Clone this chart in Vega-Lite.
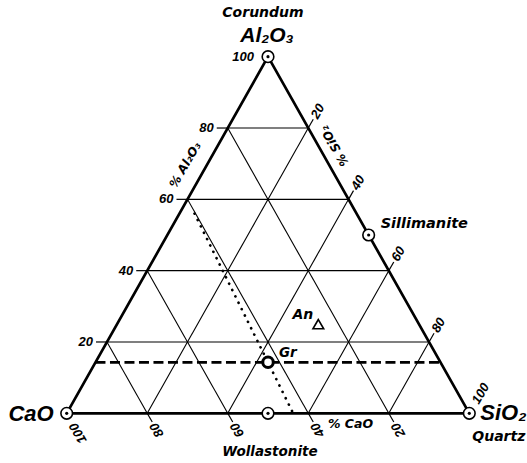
{
  "$schema": "https://vega.github.io/schema/vega-lite/v6.json",
  "description": "CaO - Al2O3 - SiO2 ternary diagram (mol %), with a 20 % grid and the main phases.",
  "width": 402.6,
  "height": 356.6,
  "autosize": "none",
  "padding": {"left": 66.7, "top": 56.7, "right": 57.7, "bottom": 49.7},
  "background": "white",
  "config": {
    "view": {"stroke": null},
    "text": {"font": "Liberation Sans", "fontStyle": "italic", "fontWeight": "bold", "color": "black"}
  },
  "datasets": {
    "edges": [
      {"ca1": 100, "al1": 0, "si1": 0, "ca2": 0, "al2": 0, "si2": 100},
      {"ca1": 0, "al1": 0, "si1": 100, "ca2": 0, "al2": 100, "si2": 0},
      {"ca1": 0, "al1": 100, "si1": 0, "ca2": 100, "al2": 0, "si2": 0}
    ],
    "grid": [
      {"ca1": 80, "al1": 20, "si1": 0, "ca2": 0, "al2": 20, "si2": 80},
      {"ca1": 60, "al1": 40, "si1": 0, "ca2": 0, "al2": 40, "si2": 60},
      {"ca1": 40, "al1": 60, "si1": 0, "ca2": 0, "al2": 60, "si2": 40},
      {"ca1": 20, "al1": 80, "si1": 0, "ca2": 0, "al2": 80, "si2": 20},
      {"ca1": 80, "al1": 0, "si1": 20, "ca2": 0, "al2": 80, "si2": 20},
      {"ca1": 60, "al1": 0, "si1": 40, "ca2": 0, "al2": 60, "si2": 40},
      {"ca1": 40, "al1": 0, "si1": 60, "ca2": 0, "al2": 40, "si2": 60},
      {"ca1": 20, "al1": 0, "si1": 80, "ca2": 0, "al2": 20, "si2": 80},
      {"ca1": 20, "al1": 0, "si1": 80, "ca2": 20, "al2": 80, "si2": 0},
      {"ca1": 40, "al1": 0, "si1": 60, "ca2": 40, "al2": 60, "si2": 0},
      {"ca1": 60, "al1": 0, "si1": 40, "ca2": 60, "al2": 40, "si2": 0},
      {"ca1": 80, "al1": 0, "si1": 20, "ca2": 80, "al2": 20, "si2": 0}
    ],
    "gr_al2o3_level": [
      {"ca1": 85.71, "al1": 14.29, "si1": 0, "ca2": 0, "al2": 14.29, "si2": 85.71}
    ],
    "gr_join": [
      {"ca1": 40.25, "al1": 56, "si1": 3.75, "ca2": 43.75, "al2": 0, "si2": 56.25}
    ],
    "scale": [
      {"side": "Al2O3", "value": 20, "ca": 80, "al": 20, "si": 0},
      {"side": "Al2O3", "value": 40, "ca": 60, "al": 40, "si": 0},
      {"side": "Al2O3", "value": 60, "ca": 40, "al": 60, "si": 0},
      {"side": "Al2O3", "value": 80, "ca": 20, "al": 80, "si": 0},
      {"side": "Al2O3", "value": 100, "ca": 0, "al": 100, "si": 0},
      {"side": "SiO2", "value": 20, "ca": 0, "al": 80, "si": 20},
      {"side": "SiO2", "value": 40, "ca": 0, "al": 60, "si": 40},
      {"side": "SiO2", "value": 60, "ca": 0, "al": 40, "si": 60},
      {"side": "SiO2", "value": 80, "ca": 0, "al": 20, "si": 80},
      {"side": "SiO2", "value": 100, "ca": 0, "al": 0, "si": 100},
      {"side": "CaO", "value": 20, "ca": 20, "al": 0, "si": 80},
      {"side": "CaO", "value": 40, "ca": 40, "al": 0, "si": 60},
      {"side": "CaO", "value": 60, "ca": 60, "al": 0, "si": 40},
      {"side": "CaO", "value": 80, "ca": 80, "al": 0, "si": 20},
      {"side": "CaO", "value": 100, "ca": 100, "al": 0, "si": 0}
    ],
    "phases": [
      {"id": "Al2O3", "marker": "node", "ca": 0, "al": 100, "si": 0},
      {"id": "CaO", "marker": "node", "ca": 100, "al": 0, "si": 0},
      {"id": "SiO2", "marker": "node", "ca": 0, "al": 0, "si": 100},
      {"id": "Sillimanite", "marker": "node", "ca": 0, "al": 50, "si": 50},
      {"id": "Wollastonite", "marker": "node", "ca": 50, "al": 0, "si": 50},
      {"id": "Gr", "marker": "ring", "ca": 42.86, "al": 14.29, "si": 42.86},
      {"id": "An", "marker": "triangle", "ca": 25, "al": 25, "si": 50}
    ],
    "labels": [
      {"text": "Corundum", "ca": 0, "al": 100, "si": 0},
      {"text": "Al₂O₃", "ca": 0, "al": 100, "si": 0},
      {"text": "CaO", "ca": 100, "al": 0, "si": 0},
      {"text": "SiO₂", "ca": 0, "al": 0, "si": 100},
      {"text": "Quartz", "ca": 0, "al": 0, "si": 100},
      {"text": "Wollastonite", "ca": 50, "al": 0, "si": 50},
      {"text": "Sillimanite", "ca": 0, "al": 50, "si": 50},
      {"text": "Gr", "ca": 42.86, "al": 14.29, "si": 42.86},
      {"text": "An", "ca": 25, "al": 25, "si": 50},
      {"text": "% Al₂O₃", "ca": 33, "al": 67, "si": 0},
      {"text": "% SiO₂", "ca": 0, "al": 73, "si": 27},
      {"text": "% CaO", "ca": 30, "al": 0, "si": 70}
    ]
  },
  "layer": [
    {
      "data": {"name": "grid"},
      "transform": [
        {"calculate": "datum.si1 + datum.al1 / 2", "as": "x1"},
        {"calculate": "datum.al1", "as": "y1"},
        {"calculate": "datum.si2 + datum.al2 / 2", "as": "x2"},
        {"calculate": "datum.al2", "as": "y2"}
      ],
      "mark": {"type": "rule", "color": "black", "strokeWidth": 1.1},
      "encoding": {
        "x": {"field": "x1", "type": "quantitative", "scale": {"domain": [0, 100], "nice": false, "zero": false}, "axis": null},
        "y": {"field": "y1", "type": "quantitative", "scale": {"domain": [0, 100], "nice": false, "zero": false}, "axis": null},
        "x2": {"field": "x2"},
        "y2": {"field": "y2"}
      }
    },
    {
      "data": {"name": "gr_al2o3_level"},
      "transform": [
        {"calculate": "datum.si1 + datum.al1 / 2", "as": "x1"},
        {"calculate": "datum.al1", "as": "y1"},
        {"calculate": "datum.si2 + datum.al2 / 2", "as": "x2"},
        {"calculate": "datum.al2", "as": "y2"}
      ],
      "mark": {"type": "rule", "color": "black", "strokeWidth": 2.7, "strokeDash": [10, 4.5]},
      "encoding": {
        "x": {"field": "x1", "type": "quantitative"},
        "y": {"field": "y1", "type": "quantitative"},
        "x2": {"field": "x2"},
        "y2": {"field": "y2"}
      }
    },
    {
      "data": {"name": "gr_join"},
      "transform": [
        {"calculate": "datum.si1 + datum.al1 / 2", "as": "x1"},
        {"calculate": "datum.al1", "as": "y1"},
        {"calculate": "datum.si2 + datum.al2 / 2", "as": "x2"},
        {"calculate": "datum.al2", "as": "y2"}
      ],
      "mark": {"type": "rule", "color": "black", "strokeWidth": 2.7, "strokeCap": "round", "strokeDash": [0.1, 7]},
      "encoding": {
        "x": {"field": "x1", "type": "quantitative"},
        "y": {"field": "y1", "type": "quantitative"},
        "x2": {"field": "x2"},
        "y2": {"field": "y2"}
      }
    },
    {
      "data": {"name": "edges"},
      "transform": [
        {"calculate": "datum.si1 + datum.al1 / 2", "as": "x1"},
        {"calculate": "datum.al1", "as": "y1"},
        {"calculate": "datum.si2 + datum.al2 / 2", "as": "x2"},
        {"calculate": "datum.al2", "as": "y2"}
      ],
      "mark": {"type": "rule", "color": "black", "strokeWidth": 2.7, "strokeCap": "round"},
      "encoding": {
        "x": {"field": "x1", "type": "quantitative"},
        "y": {"field": "y1", "type": "quantitative"},
        "x2": {"field": "x2"},
        "y2": {"field": "y2"}
      }
    },
    {
      "data": {"name": "scale"},
      "transform": [
        {"filter": "datum.side == 'Al2O3' && datum.value < 100"},
        {"calculate": "datum.si + datum.al / 2", "as": "x"},
        {"calculate": "datum.al", "as": "y"}
      ],
      "mark": {"type": "rule", "color": "black", "strokeWidth": 1.2, "x2Offset": -11},
      "encoding": {
        "x": {"field": "x", "type": "quantitative"},
        "y": {"field": "y", "type": "quantitative"},
        "x2": {"field": "x"},
        "y2": {"field": "y"}
      }
    },
    {
      "data": {"name": "scale"},
      "transform": [
        {"filter": "datum.side == 'SiO2' && datum.value < 100"},
        {"calculate": "datum.si + datum.al / 2", "as": "x"},
        {"calculate": "datum.al", "as": "y"}
      ],
      "mark": {"type": "rule", "color": "black", "strokeWidth": 1.2, "x2Offset": 5, "y2Offset": -8.7},
      "encoding": {
        "x": {"field": "x", "type": "quantitative"},
        "y": {"field": "y", "type": "quantitative"},
        "x2": {"field": "x"},
        "y2": {"field": "y"}
      }
    },
    {
      "data": {"name": "scale"},
      "transform": [
        {"filter": "datum.side == 'CaO' && datum.value < 100"},
        {"calculate": "datum.si + datum.al / 2", "as": "x"},
        {"calculate": "datum.al", "as": "y"}
      ],
      "mark": {"type": "rule", "color": "black", "strokeWidth": 1.2, "x2Offset": 5, "y2Offset": 8.7},
      "encoding": {
        "x": {"field": "x", "type": "quantitative"},
        "y": {"field": "y", "type": "quantitative"},
        "x2": {"field": "x"},
        "y2": {"field": "y"}
      }
    },
    {
      "data": {"name": "scale"},
      "transform": [
        {"filter": "datum.side == 'Al2O3'"},
        {"calculate": "datum.si + datum.al / 2", "as": "x"},
        {"calculate": "datum.al", "as": "y"}
      ],
      "mark": {"type": "text", "align": "right", "baseline": "middle", "dx": -14, "fontSize": 13},
      "encoding": {
        "x": {"field": "x", "type": "quantitative"},
        "y": {"field": "y", "type": "quantitative"},
        "text": {"field": "value", "type": "quantitative"}
      }
    },
    {
      "data": {"name": "scale"},
      "transform": [
        {"filter": "datum.side == 'SiO2'"},
        {"calculate": "datum.si + datum.al / 2", "as": "x"},
        {"calculate": "datum.al", "as": "y"}
      ],
      "mark": {"type": "text", "align": "left", "baseline": "middle", "angle": 300, "dx": 12, "fontSize": 13},
      "encoding": {
        "x": {"field": "x", "type": "quantitative"},
        "y": {"field": "y", "type": "quantitative"},
        "text": {"field": "value", "type": "quantitative"}
      }
    },
    {
      "data": {"name": "scale"},
      "transform": [
        {"filter": "datum.side == 'CaO'"},
        {"calculate": "datum.si + datum.al / 2", "as": "x"},
        {"calculate": "datum.al", "as": "y"}
      ],
      "mark": {"type": "text", "align": "right", "baseline": "middle", "angle": 240, "dx": -12, "fontSize": 13},
      "encoding": {
        "x": {"field": "x", "type": "quantitative"},
        "y": {"field": "y", "type": "quantitative"},
        "text": {"field": "value", "type": "quantitative"}
      }
    },
    {
      "data": {"name": "phases"},
      "transform": [
        {"filter": "datum.marker == 'node'"},
        {"calculate": "datum.si + datum.al / 2", "as": "x"},
        {"calculate": "datum.al", "as": "y"}
      ],
      "mark": {"type": "point", "shape": "circle", "filled": true, "fill": "white", "stroke": "black", "strokeWidth": 1.6, "size": 135, "opacity": 1},
      "encoding": {
        "x": {"field": "x", "type": "quantitative"},
        "y": {"field": "y", "type": "quantitative"}
      }
    },
    {
      "data": {"name": "phases"},
      "transform": [
        {"filter": "datum.marker == 'node'"},
        {"calculate": "datum.si + datum.al / 2", "as": "x"},
        {"calculate": "datum.al", "as": "y"}
      ],
      "mark": {"type": "point", "shape": "circle", "filled": true, "color": "black", "size": 10, "opacity": 1},
      "encoding": {
        "x": {"field": "x", "type": "quantitative"},
        "y": {"field": "y", "type": "quantitative"}
      }
    },
    {
      "data": {"name": "phases"},
      "transform": [
        {"filter": "datum.marker == 'ring'"},
        {"calculate": "datum.si + datum.al / 2", "as": "x"},
        {"calculate": "datum.al", "as": "y"}
      ],
      "mark": {"type": "point", "shape": "circle", "filled": true, "fill": "white", "stroke": "black", "strokeWidth": 3, "size": 110, "opacity": 1},
      "encoding": {
        "x": {"field": "x", "type": "quantitative"},
        "y": {"field": "y", "type": "quantitative"}
      }
    },
    {
      "data": {"name": "phases"},
      "transform": [
        {"filter": "datum.marker == 'triangle'"},
        {"calculate": "datum.si + datum.al / 2", "as": "x"},
        {"calculate": "datum.al", "as": "y"}
      ],
      "mark": {"type": "point", "shape": "triangle-up", "filled": true, "fill": "white", "stroke": "black", "strokeWidth": 1.6, "size": 115, "opacity": 1},
      "encoding": {
        "x": {"field": "x", "type": "quantitative"},
        "y": {"field": "y", "type": "quantitative"}
      }
    },
    {
      "data": {"name": "labels"},
      "transform": [
        {"filter": "datum.text == 'Corundum'"},
        {"calculate": "datum.si + datum.al / 2", "as": "x"},
        {"calculate": "datum.al", "as": "y"}
      ],
      "mark": {"type": "text", "font": "DejaVu Sans", "align": "center", "baseline": "middle", "dx": -5, "dy": -44, "fontSize": 14},
      "encoding": {
        "x": {"field": "x", "type": "quantitative"},
        "y": {"field": "y", "type": "quantitative"},
        "text": {"field": "text"}
      }
    },
    {
      "data": {"name": "labels"},
      "transform": [
        {"filter": "datum.text == 'Al₂O₃'"},
        {"calculate": "datum.si + datum.al / 2", "as": "x"},
        {"calculate": "datum.al", "as": "y"}
      ],
      "mark": {"type": "text", "align": "center", "baseline": "middle", "dx": -1, "dy": -21, "fontSize": 21},
      "encoding": {
        "x": {"field": "x", "type": "quantitative"},
        "y": {"field": "y", "type": "quantitative"},
        "text": {"field": "text"}
      }
    },
    {
      "data": {"name": "labels"},
      "transform": [
        {"filter": "datum.text == 'CaO'"},
        {"calculate": "datum.si + datum.al / 2", "as": "x"},
        {"calculate": "datum.al", "as": "y"}
      ],
      "mark": {"type": "text", "align": "right", "baseline": "middle", "dx": -13, "dy": 1, "fontSize": 22},
      "encoding": {
        "x": {"field": "x", "type": "quantitative"},
        "y": {"field": "y", "type": "quantitative"},
        "text": {"field": "text"}
      }
    },
    {
      "data": {"name": "labels"},
      "transform": [
        {"filter": "datum.text == 'SiO₂'"},
        {"calculate": "datum.si + datum.al / 2", "as": "x"},
        {"calculate": "datum.al", "as": "y"}
      ],
      "mark": {"type": "text", "align": "left", "baseline": "middle", "dx": 11, "dy": 0, "fontSize": 22},
      "encoding": {
        "x": {"field": "x", "type": "quantitative"},
        "y": {"field": "y", "type": "quantitative"},
        "text": {"field": "text"}
      }
    },
    {
      "data": {"name": "labels"},
      "transform": [
        {"filter": "datum.text == 'Quartz'"},
        {"calculate": "datum.si + datum.al / 2", "as": "x"},
        {"calculate": "datum.al", "as": "y"}
      ],
      "mark": {"type": "text", "font": "DejaVu Sans", "align": "left", "baseline": "middle", "dx": 3, "dy": 24, "fontSize": 14},
      "encoding": {
        "x": {"field": "x", "type": "quantitative"},
        "y": {"field": "y", "type": "quantitative"},
        "text": {"field": "text"}
      }
    },
    {
      "data": {"name": "labels"},
      "transform": [
        {"filter": "datum.text == 'Wollastonite'"},
        {"calculate": "datum.si + datum.al / 2", "as": "x"},
        {"calculate": "datum.al", "as": "y"}
      ],
      "mark": {"type": "text", "font": "DejaVu Sans", "align": "center", "baseline": "middle", "dx": 2, "dy": 39, "fontSize": 13.5},
      "encoding": {
        "x": {"field": "x", "type": "quantitative"},
        "y": {"field": "y", "type": "quantitative"},
        "text": {"field": "text"}
      }
    },
    {
      "data": {"name": "labels"},
      "transform": [
        {"filter": "datum.text == 'Sillimanite'"},
        {"calculate": "datum.si + datum.al / 2", "as": "x"},
        {"calculate": "datum.al", "as": "y"}
      ],
      "mark": {"type": "text", "font": "DejaVu Sans", "align": "left", "baseline": "middle", "dx": 12, "dy": -11, "fontSize": 14.5},
      "encoding": {
        "x": {"field": "x", "type": "quantitative"},
        "y": {"field": "y", "type": "quantitative"},
        "text": {"field": "text"}
      }
    },
    {
      "data": {"name": "labels"},
      "transform": [
        {"filter": "datum.text == 'Gr'"},
        {"calculate": "datum.si + datum.al / 2", "as": "x"},
        {"calculate": "datum.al", "as": "y"}
      ],
      "mark": {"type": "text", "font": "DejaVu Sans", "align": "left", "baseline": "middle", "dx": 11, "dy": -9, "fontSize": 13.5},
      "encoding": {
        "x": {"field": "x", "type": "quantitative"},
        "y": {"field": "y", "type": "quantitative"},
        "text": {"field": "text"}
      }
    },
    {
      "data": {"name": "labels"},
      "transform": [
        {"filter": "datum.text == 'An'"},
        {"calculate": "datum.si + datum.al / 2", "as": "x"},
        {"calculate": "datum.al", "as": "y"}
      ],
      "mark": {"type": "text", "font": "DejaVu Sans", "align": "right", "baseline": "middle", "dx": -5, "dy": -9, "fontSize": 14},
      "encoding": {
        "x": {"field": "x", "type": "quantitative"},
        "y": {"field": "y", "type": "quantitative"},
        "text": {"field": "text"}
      }
    },
    {
      "data": {"name": "labels"},
      "transform": [
        {"filter": "datum.text == '% Al₂O₃'"},
        {"calculate": "datum.si + datum.al / 2", "as": "x"},
        {"calculate": "datum.al", "as": "y"}
      ],
      "mark": {"type": "text", "font": "DejaVu Sans", "align": "center", "baseline": "middle", "angle": 300, "dy": -19, "fontSize": 12},
      "encoding": {
        "x": {"field": "x", "type": "quantitative"},
        "y": {"field": "y", "type": "quantitative"},
        "text": {"field": "text"}
      }
    },
    {
      "data": {"name": "labels"},
      "transform": [
        {"filter": "datum.text == '% SiO₂'"},
        {"calculate": "datum.si + datum.al / 2", "as": "x"},
        {"calculate": "datum.al", "as": "y"}
      ],
      "mark": {"type": "text", "font": "DejaVu Sans", "align": "center", "baseline": "middle", "angle": 240, "dy": 14, "fontSize": 12},
      "encoding": {
        "x": {"field": "x", "type": "quantitative"},
        "y": {"field": "y", "type": "quantitative"},
        "text": {"field": "text"}
      }
    },
    {
      "data": {"name": "labels"},
      "transform": [
        {"filter": "datum.text == '% CaO'"},
        {"calculate": "datum.si + datum.al / 2", "as": "x"},
        {"calculate": "datum.al", "as": "y"}
      ],
      "mark": {"type": "text", "font": "DejaVu Sans", "align": "center", "baseline": "middle", "dx": 2, "dy": 11, "fontSize": 12.5},
      "encoding": {
        "x": {"field": "x", "type": "quantitative"},
        "y": {"field": "y", "type": "quantitative"},
        "text": {"field": "text"}
      }
    }
  ]
}
